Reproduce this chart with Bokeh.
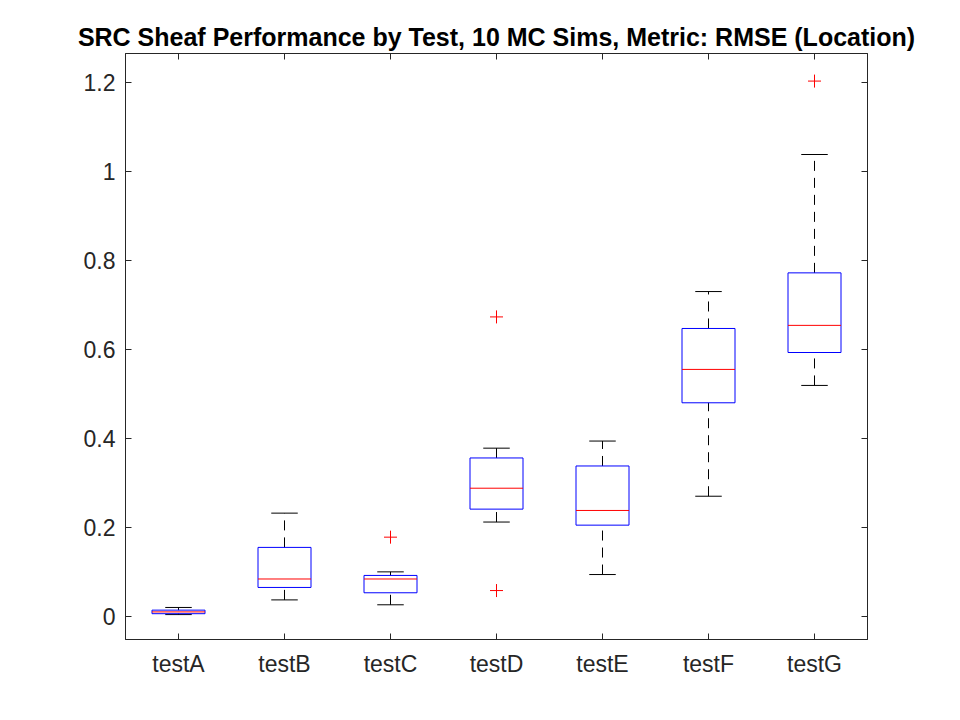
from bokeh.plotting import figure
from bokeh.models import Range1d, FixedTicker, LinearAxis, ColumnDataSource
from bokeh.embed import file_html
from bokeh.resources import INLINE

# ---- data ----
tests = ["testA", "testB", "testC", "testD", "testE", "testF", "testG"]
whisker_lo = [0.004, 0.037, 0.026, 0.212, 0.094, 0.270, 0.519]
q1 = [0.006, 0.065, 0.053, 0.241, 0.205, 0.480, 0.593]
median = [0.010, 0.084, 0.084, 0.288, 0.238, 0.555, 0.654]
q3 = [0.014, 0.155, 0.092, 0.356, 0.338, 0.647, 0.772]
whisker_hi = [0.020, 0.232, 0.100, 0.378, 0.394, 0.730, 1.038]
outlier_test = ["testC", "testD", "testD", "testG"]
outlier_val = [0.178, 0.673, 0.058, 1.203]
y_ticks = [0, 0.2, 0.4, 0.6, 0.8, 1.0, 1.2]
y_tick_labels = ["0", "0.2", "0.4", "0.6", "0.8", "1", "1.2"]

pos = list(range(1, len(tests) + 1))
box_w = 0.5
cap_w = 0.25
axis_col = "#262626"
font = "Liberation Sans"

src = ColumnDataSource(dict(
    x=pos,
    left=[p - box_w / 2 for p in pos],
    right=[p + box_w / 2 for p in pos],
    cl=[p - cap_w / 2 for p in pos],
    cr=[p + cap_w / 2 for p in pos],
    lo=whisker_lo, q1=q1, med=median, q3=q3, hi=whisker_hi,
))
out_src = ColumnDataSource(dict(
    x=[tests.index(t) + 1 for t in outlier_test],
    y=outlier_val,
))

p = figure(width=944, height=704, output_backend="svg", toolbar_location=None,
           x_range=Range1d(0.5, 7.5), y_range=Range1d(-0.052, 1.265),
           min_border_left=125, min_border_right=77, min_border_top=53, min_border_bottom=65,
           background_fill_color="white", border_fill_color="white")
p.grid.visible = False
p.outline_line_color = axis_col
p.outline_line_width = 1

# title
p.title.text = "SRC Sheaf Performance by Test, 10 MC Sims, Metric: RMSE (Location)"
p.title.text_font = font
p.title.text_font_size = "25px"
p.title.text_font_style = "bold"
p.title.text_color = "black"
p.title.align = "center"
p.title.offset = 0
p.title.standoff = 6

# axes
def style_axis(ax, labels=True):
    ax.axis_line_color = axis_col
    ax.major_tick_line_color = axis_col
    ax.major_tick_in = 6
    ax.major_tick_out = 0
    ax.minor_tick_line_color = None
    ax.major_label_text_font = font
    ax.major_label_text_font_size = "23px" if labels else "0px"
    ax.major_label_text_color = axis_col if labels else None

xax = p.xaxis[0]
xax.ticker = FixedTicker(ticks=pos)
xax.major_label_overrides = {i + 1: t for i, t in enumerate(tests)}
style_axis(xax)
xax.major_label_standoff = 11

yax = p.yaxis[0]
yax.ticker = FixedTicker(ticks=y_ticks)
yax.major_label_overrides = {v: l for v, l in zip(y_ticks, y_tick_labels)}
style_axis(yax)
yax.major_label_standoff = 10

top_ax = LinearAxis(ticker=FixedTicker(ticks=pos), major_label_standoff=0)
style_axis(top_ax, labels=False)
p.add_layout(top_ax, "above")
right_ax = LinearAxis(ticker=FixedTicker(ticks=y_ticks), major_label_standoff=0)
style_axis(right_ax, labels=False)
p.add_layout(right_ax, "right")

# whiskers (dashed)
p.segment(x0="x", y0="q3", x1="x", y1="hi", source=src, line_color="black",
          line_width=1, line_dash="10 7")
p.segment(x0="x", y0="lo", x1="x", y1="q1", source=src, line_color="black",
          line_width=1, line_dash="10 7")
# caps
p.segment(x0="cl", y0="hi", x1="cr", y1="hi", source=src, line_color="black", line_width=1)
p.segment(x0="cl", y0="lo", x1="cr", y1="lo", source=src, line_color="black", line_width=1)
# boxes
p.quad(left="left", right="right", bottom="q1", top="q3", source=src,
       fill_color=None, line_color="#0000FF", line_width=1)
# medians
p.segment(x0="left", y0="med", x1="right", y1="med", source=src, line_color="#FF0000", line_width=1)
# outliers
p.scatter(x="x", y="y", source=out_src, marker="cross", size=13,
          line_color="#FF0000", line_width=1)

open("out.html", "w").write(file_html(p, INLINE))
